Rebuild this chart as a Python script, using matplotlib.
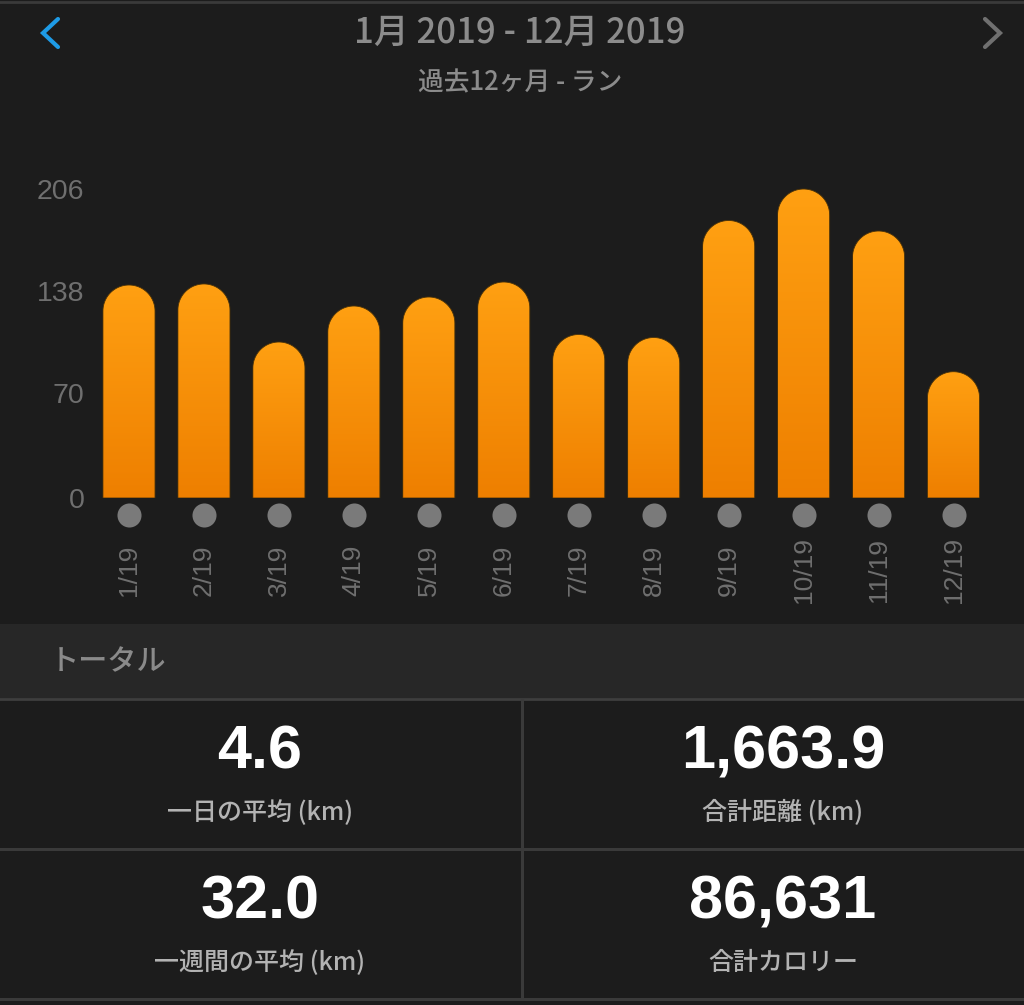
import numpy as np
import matplotlib
matplotlib.use("Agg")
import matplotlib.pyplot as plt
from matplotlib.path import Path
from matplotlib.patches import PathPatch, Rectangle
from matplotlib.colors import LinearSegmentedColormap
from matplotlib.transforms import ScaledTranslation

# datos del gráfico (km por mes)
months = ["1/19", "2/19", "3/19", "4/19", "5/19", "6/19",
          "7/19", "8/19", "9/19", "10/19", "11/19", "12/19"]
distance_km = [142.0, 142.7, 104.0, 128.0, 134.0, 144.0,
               109.0, 107.0, 185.0, 206.0, 178.0, 84.2]
y_ticks = [0, 70, 138, 206]

title = "1月 2019 - 12月 2019"
subtitle = "過去12ヶ月 - ラン"
section = "トータル"
stat_values = ["4.6", "1,663.9", "32.0", "86,631"]
stat_labels = ["一日の平均 (km)", "合計距離 (km)", "一週間の平均 (km)", "合計カロリー"]

BG = "#1c1c1c"
JP = ["Noto Sans CJK JP", "DejaVu Sans"]
NUM = ["Liberation Sans", "DejaVu Sans"]

W, H = 1024, 1005
fig = plt.figure(figsize=(W / 100, H / 100), dpi=100, facecolor=BG)

# capa de maquetación en píxeles
lay = fig.add_axes([0, 0, 1, 1])
lay.set_xlim(0, W)
lay.set_ylim(H, 0)
lay.axis("off")
lay.set_facecolor("none")

lay.add_patch(Rectangle((0, 624), W, 74, color="#272727", lw=0))
lay.plot([0, W], [1.5, 1.5], color="#3a3a3a", lw=2)
lay.plot([0, W], [699, 699], color="#3e3e3e", lw=2)
lay.plot([0, W], [849, 849], color="#3a3a3a", lw=2.2)
lay.plot([0, W], [999, 999], color="#3a3a3a", lw=2.2)
lay.plot([522, 522], [700, 998], color="#3a3a3a", lw=2.2)

lay.text(520, 33, title, color="#8c8c8c", fontsize=25, fontweight="medium",
         family=JP, ha="center", va="center")
lay.text(520, 83, subtitle, color="#8c8c8c", fontsize=18.5, fontweight="medium",
         family=JP, ha="center", va="center")
# flechas de navegación
lay.plot([58, 43, 58], [19, 33, 47], color="#1e9be6", lw=3, solid_capstyle="round",
         solid_joinstyle="miter")
lay.plot([985, 1000, 985], [19, 33, 47], color="#707070", lw=3, solid_capstyle="round",
         solid_joinstyle="miter")
lay.text(50, 662, section, color="#8a8a8a", fontsize=21, fontweight="medium",
         family=JP, ha="left", va="center")

cell_x = [260, 783, 260, 783]
cell_y = [768, 768, 918, 918]
for v, lab, cx, cy in zip(stat_values, stat_labels, cell_x, cell_y):
    lay.text(cx, cy, v, color="white", fontsize=44, fontweight="bold",
             family=NUM, ha="center", va="baseline")
    lay.text(cx, cy + 45, lab, color="#b3b3b3", fontsize=18, fontweight="medium",
             family=JP, ha="center", va="center")

# gráfico de barras
ax_l, ax_r = 91.5, 991.0
ymax = 210
y0_px = 498
ax_top = y0_px - ymax * 1.5
ax = fig.add_axes([ax_l / W, (H - y0_px) / H, (ax_r - ax_l) / W, (y0_px - ax_top) / H])
ax.set_facecolor("none")
ax.set_xlim(-0.5, len(months) - 0.5)
ax.set_ylim(0, ymax)
for s in ax.spines.values():
    s.set_visible(False)
ax.set_yticks(y_ticks)
ax.set_yticklabels([str(t) for t in y_ticks], color="#6f6f6f", fontsize=20.5,
                   family=NUM)
ax.tick_params(axis="y", length=0, pad=5)
ax.set_xticks([])

fig.canvas.draw()
bb = ax.get_window_extent()
px_x = bb.width / len(months)
px_y = bb.height / ymax

bar_w = 0.695
ry = (bar_w / 2 * px_x) / px_y
cmap = LinearSegmentedColormap.from_list("orange", ["#ee7f00", "#ffa012"])
grad = np.linspace(0, 1, 256).reshape(-1, 1)

for i, h in enumerate(distance_km):
    x0, x1 = i - bar_w / 2, i + bar_w / 2
    t = np.linspace(np.pi, 0, 40)
    arc = np.column_stack([i + bar_w / 2 * np.cos(t), h - ry + ry * np.sin(t)])
    verts = np.vstack([[x0, 0], arc, [x1, 0], [x0, 0]])
    codes = [Path.MOVETO] + [Path.LINETO] * (len(verts) - 2) + [Path.CLOSEPOLY]
    patch = PathPatch(Path(verts, codes), facecolor="none", edgecolor="#4a3208", lw=0.6,
                      zorder=3)
    ax.add_patch(patch)
    im = ax.imshow(grad, cmap=cmap, origin="lower", extent=(x0, x1, 0, h),
                   aspect="auto", zorder=2)
    im.set_clip_path(patch)

ax.set_xlim(-0.5, len(months) - 0.5)
ax.set_ylim(0, ymax)

xs = np.arange(len(months))
dot_tr = ax.transData + ScaledTranslation(0, -0.17, fig.dpi_scale_trans)
ax.scatter(xs, np.zeros(len(months)), s=300, color="#7a7a7a", transform=dot_tr,
           clip_on=False, lw=0)
lab_tr = ax.transData + ScaledTranslation(0, -0.72, fig.dpi_scale_trans)
for x, m in zip(xs, months):
    ax.text(x, 0, m, transform=lab_tr, rotation=90, color="#6f6f6f", fontsize=19,
            family=NUM, ha="center", va="center", clip_on=False)

fig.savefig("out.png", dpi=100, facecolor=BG)
